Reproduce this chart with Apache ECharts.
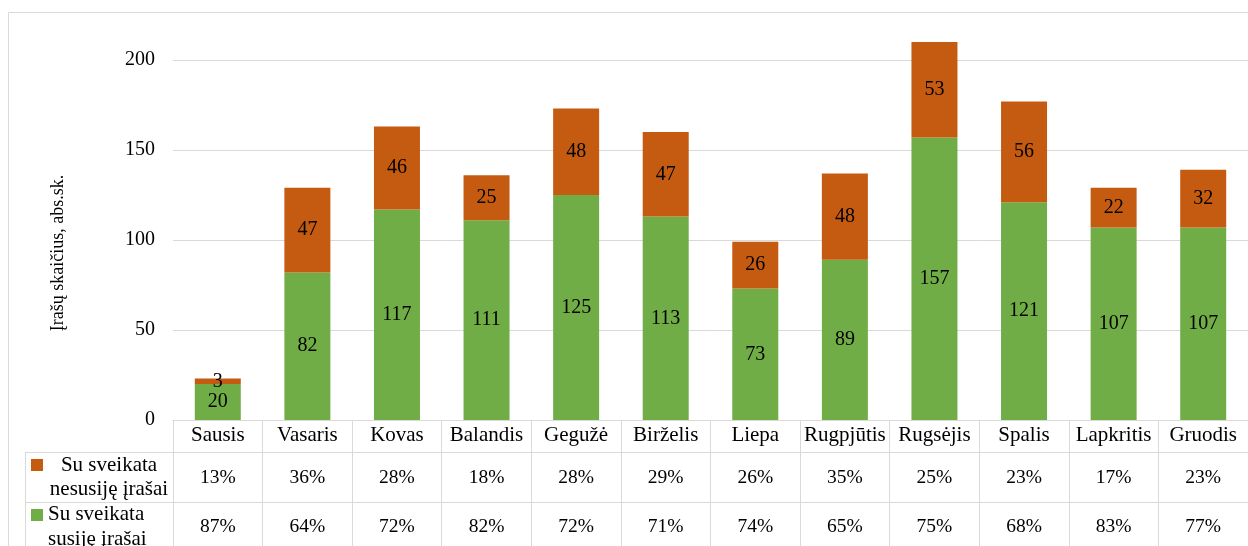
<!DOCTYPE html>
<html><head><meta charset="utf-8">
<script src="https://cdn.jsdelivr.net/npm/echarts@6/dist/echarts.min.js"></script>
<style>html,body{margin:0;padding:0;background:#fff}#c{width:1248px;height:546px}</style>
</head><body><div id="c"></div>
<script>
const categories = ['Sausis','Vasaris','Kovas','Balandis','Gegužė','Birželis','Liepa','Rugpjūtis','Rugsėjis','Spalis','Lapkritis','Gruodis'];
const relatedName = 'Su sveikata susiję įrašai';
const unrelatedName = 'Su sveikata nesusiję įrašai';
const related = [20,82,117,111,125,113,73,89,157,121,107,107];
const unrelated = [3,47,46,25,48,47,26,48,53,56,22,32];
const unrelatedPct = ['13%','36%','28%','18%','28%','29%','26%','35%','25%','23%','17%','23%'];
const relatedPct = ['87%','64%','72%','82%','72%','71%','74%','65%','75%','68%','83%','77%'];
const yTicks = [0,50,100,150,200];

const FONT = '"Liberation Serif","Times New Roman",serif';
const GRID = '#d9d9d9';
const GREEN = '#70AD47', ORANGE = '#C55A11';

const chart = echarts.init(document.getElementById('c'));
const baseX = {
  type: 'category', data: categories, position: 'bottom',
  axisLine: {show: true, lineStyle: {color: GRID, width: 1}},
  axisTick: {show: false}, splitLine: {show: false}
};
chart.setOption({
  animation: false,
  textStyle: {fontFamily: FONT},
  grid: {left: 173, top: 60, width: 1084, height: 360, containLabel: false},
  xAxis: [
    Object.assign({}, baseX, {
      axisTick: {show: true, interval: 0, length: 126, lineStyle: {color: GRID}},
      axisLabel: {interval: 0, margin: 5, fontSize: 21, color: '#000', fontFamily: FONT}
    }),
    Object.assign({}, baseX, {
      offset: 32, data: unrelatedPct,
      axisLabel: {interval: 0, margin: 16, fontSize: 19.5, color: '#000', fontFamily: FONT}
    }),
    Object.assign({}, baseX, {
      offset: 82, data: relatedPct,
      axisLabel: {interval: 0, margin: 15, fontSize: 19.5, color: '#000', fontFamily: FONT}
    })
  ],
  yAxis: {
    type: 'value', min: yTicks[0], max: yTicks[yTicks.length-1], interval: 50,
    name: 'Įrašų skaičius, abs.sk.', nameLocation: 'middle', nameGap: 106,
    nameTextStyle: {fontSize: 18, color: '#000', fontFamily: FONT, padding: [0, 26, 0, 0]},
    axisLine: {show: false}, axisTick: {show: false},
    axisLabel: {margin: 18, fontSize: 20, color: '#000', fontFamily: FONT},
    splitLine: {lineStyle: {color: GRID, width: 1}}
  },
  series: [
    {name: relatedName, type: 'bar', stack: 's', data: related, barWidth: 46, clip: false,
     itemStyle: {color: GREEN},
     label: {show: true, position: 'inside', color: '#000', fontSize: 20, fontFamily: FONT}},
    {name: unrelatedName, type: 'bar', stack: 's', data: unrelated, barWidth: 46, clip: false,
     itemStyle: {color: ORANGE},
     label: {show: true, position: 'inside', color: '#000', fontSize: 20, fontFamily: FONT}}
  ],
  graphic: [
    {type: 'rect', shape: {x: 8.5, y: 12.5, width: 1400, height: 700}, style: {fill: 'none', stroke: GRID, lineWidth: 1}, silent: true, z: -1},
    {type: 'line', shape: {x1: 25, y1: 452.5, x2: 173, y2: 452.5}, style: {stroke: GRID, lineWidth: 1}},
    {type: 'line', shape: {x1: 25, y1: 502.5, x2: 173, y2: 502.5}, style: {stroke: GRID, lineWidth: 1}},
    {type: 'line', shape: {x1: 25.5, y1: 452, x2: 25.5, y2: 546}, style: {stroke: GRID, lineWidth: 1}},
    {type: 'rect', shape: {x: 31, y: 459, width: 12, height: 12}, style: {fill: ORANGE}},
    {type: 'rect', shape: {x: 31, y: 509, width: 12, height: 12}, style: {fill: GREEN}},
    {type: 'text', x: 109, y: 453, style: {text: 'Su sveikata\nnesusiję įrašai', fill: '#000', font: '21px ' + FONT, align: 'center', verticalAlign: 'top', lineHeight: 24}},
    {type: 'text', x: 48, y: 502, style: {text: 'Su sveikata\nsusiję įrašai', fill: '#000', font: '21px ' + FONT, align: 'left', verticalAlign: 'top', lineHeight: 25}}
  ]
});
</script></body></html>
